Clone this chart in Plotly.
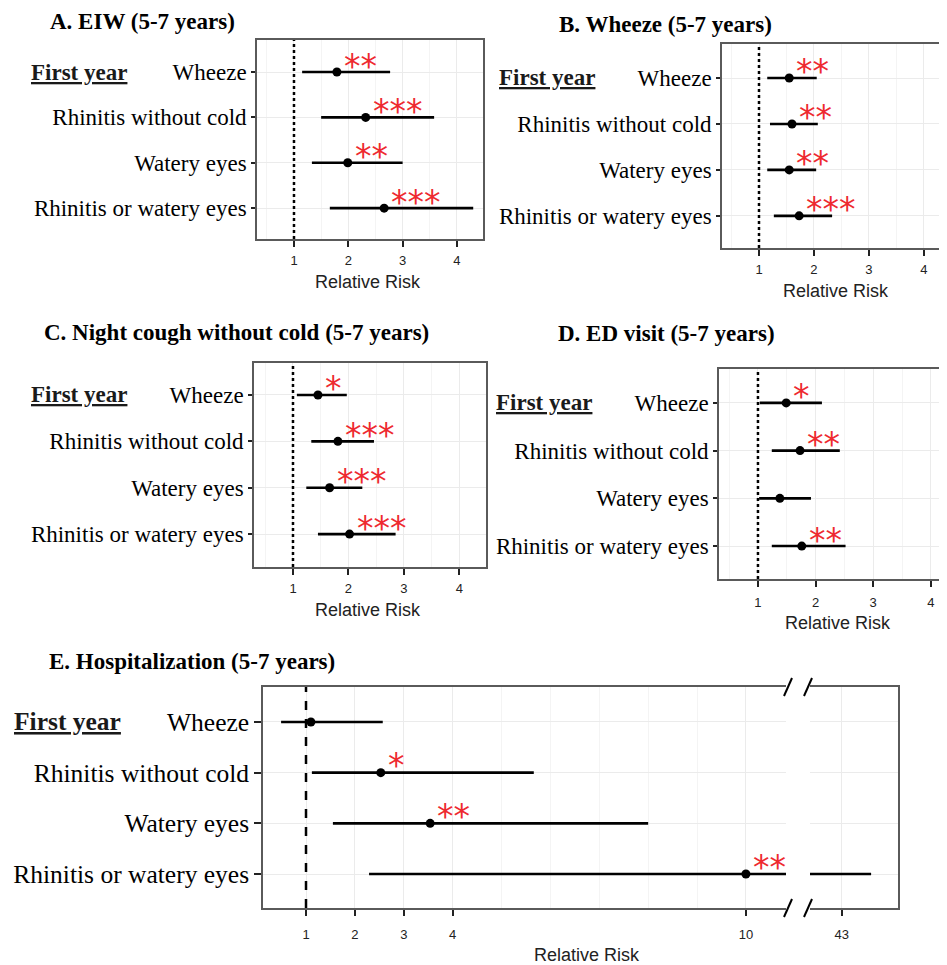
import plotly.graph_objects as go

PAGE_W, PAGE_H = 947, 965
OFF = 8  # default page body margin in the html page
W, H = PAGE_W - OFF, PAGE_H - OFF

# ---------------- data ----------------
outcomes = ["Wheeze", "Rhinitis without cold", "Watery eyes", "Rhinitis or watery eyes"]
row_pos = [1, 2, 3, 4]
group_label = "First year"
null_value = 1
x_title = "Relative Risk"

A_title = "A. EIW (5-7 years)"
A_rr = [1.79, 2.32, 1.99, 2.66]
A_lo = [1.15, 1.50, 1.33, 1.66]
A_hi = [2.77, 3.58, 3.00, 4.30]
A_sig = ["**", "***", "**", "***"]

B_title = "B. Wheeze (5-7 years)"
B_rr = [1.55, 1.60, 1.55, 1.73]
B_lo = [1.15, 1.20, 1.15, 1.27]
B_hi = [2.05, 2.07, 2.04, 2.33]
B_sig = ["**", "**", "**", "***"]

C_title = "C. Night cough without cold (5-7 years)"
C_rr = [1.45, 1.81, 1.66, 2.02]
C_lo = [1.07, 1.33, 1.24, 1.45]
C_hi = [1.97, 2.46, 2.25, 2.85]
C_sig = ["*", "***", "***", "***"]

D_title = "D. ED visit (5-7 years)"
D_rr = [1.49, 1.73, 1.38, 1.76]
D_lo = [1.03, 1.24, 1.02, 1.24]
D_hi = [2.11, 2.42, 1.92, 2.52]
D_sig = ["*", "**", "", "**"]

E_title = "E. Hospitalization (5-7 years)"
E_rr = [1.10, 2.53, 3.54, 10.0]
E_lo = [0.49, 1.12, 1.55, 2.29]
E_hi = [2.57, 5.66, 8.00, 43.6]
E_sig = ["", "*", "**", "**"]

ticks_small = [1, 2, 3, 4]
ticks_E_left = [1, 2, 3, 4, 10]
ticks_E_right = [43]

# ---------------- layout geometry (page pixels) ----------------
SERIF = "Liberation Serif"
SANS = "Liberation Sans"
STAR_FONT = dict(family="DejaVu Sans", size=33, color="#ee2a2f")
BOX = "#5a5a5a"
GRID = "#ebebeb"
MINOR = "#f4f4f4"

panels = [
    dict(n=1, title=A_title, rr=A_rr, lo=A_lo, hi=A_hi, sig=A_sig,
         box=(257, 483, 40, 239), xr=[0.319, 4.48], yr=[4.68, 0.294],
         ttl=(48, 21.5), fy=29, xt=(368, 282), ticks=ticks_small, full=True, fs=23, yt=4, sd=3),
    dict(n=2, title=B_title, rr=B_rr, lo=B_lo, hi=B_hi, sig=B_sig,
         box=(722, 947, 44, 248), xr=[0.327, 4.42], yr=[4.70, 0.26],
         ttl=(557, 24), fy=497, xt=(836, 291), ticks=ticks_small, full=False, fs=23, yt=4, sd=3),
    dict(n=3, title=C_title, rr=C_rr, lo=C_lo, hi=C_hi, sig=C_sig,
         box=(254, 486, 363, 567), xr=[0.297, 4.48], yr=[4.71, 0.31],
         ttl=(42, 333), fy=29, xt=(368, 610), ticks=ticks_small, full=True, fs=23, yt=4, sd=3),
    dict(n=4, title=D_title, rr=D_rr, lo=D_lo, hi=D_hi, sig=D_sig,
         box=(719, 947, 369, 579), xr=[0.324, 4.28], yr=[4.69, 0.29],
         ttl=(556, 334), fy=494, xt=(838, 623), ticks=ticks_small, full=False, fs=23, yt=4, sd=5),
    dict(n=5, title=E_title, rr=E_rr, lo=E_lo, hi=E_hi, sig=E_sig,
         box=(263, 786, 687, 908), xr=[0.12, 10.82], yr=[4.67, 0.31],
         ttl=(47, 661), fy=12, xt=(587, 955), ticks=ticks_E_left, full=False, fs=25.5, yt=7, sd=8),
]
E2_box = (810, 898)
E2_range = [42.35, 44.15]


def px(x):
    return (x - OFF) / W


def py(y):
    return 1 - (y - OFF) / H


fig = go.Figure()
layout = dict(width=W, height=H, margin=dict(l=0, r=0, t=0, b=0),
              plot_bgcolor="white", paper_bgcolor="white", showlegend=False)
annotations = []
shapes = []


def add_ci(xa, ya, rr, lo, hi):
    xs, ys = [], []
    for r, l, h in zip(row_pos, lo, hi):
        xs += [l, h, None]
        ys += [r, r, None]
    fig.add_trace(go.Scatter(x=xs, y=ys, mode="lines", xaxis=xa, yaxis=ya,
                             line=dict(color="black", width=2.6), hoverinfo="skip"))
    fig.add_trace(go.Scatter(x=rr, y=row_pos, mode="markers", xaxis=xa, yaxis=ya,
                             marker=dict(color="black", size=9)))


def xaxis_style(domain, anchor, rng, ticks, fsize, standoff):
    return dict(domain=domain, anchor=anchor, range=rng,
                tickvals=ticks, ticktext=[str(t) for t in ticks],
                showline=True, linecolor=BOX, linewidth=1.6, mirror=True,
                ticks="outside", ticklen=6, tickwidth=2, tickcolor="#222",
                tickfont=dict(family=SANS, size=fsize, color="#222"),
                ticklabelstandoff=standoff,
                showgrid=True, gridcolor=GRID, gridwidth=1, zeroline=False,
                fixedrange=True)


for p in panels:
    n = p["n"]
    x0, x1, y0, y1 = p["box"]
    xa, ya = ("x" if n == 1 else f"x{n}"), ("y" if n == 1 else f"y{n}")
    xkey, ykey = ("xaxis" if n == 1 else f"xaxis{n}"), ("yaxis" if n == 1 else f"yaxis{n}")
    xs = xaxis_style([px(x0), min(1, px(x1))], ya, p["xr"], p["ticks"], 13, p["sd"])
    xs["minor"] = dict(dtick=0.5 if n != 5 else 1, showgrid=True, gridcolor=MINOR, ticks="")
    layout[xkey] = xs
    layout[ykey] = dict(domain=[py(y1), py(y0)], anchor=xa, range=p["yr"],
                        tickvals=row_pos, ticktext=outcomes,
                        showline=True, linecolor=BOX, linewidth=1.6, mirror=p["full"],
                        ticks="outside", ticklen=p["yt"], tickwidth=2, tickcolor="#222",
                        tickfont=dict(family=SERIF, size=p["fs"], color="black"),
                        showgrid=True, gridcolor=GRID, gridwidth=1, zeroline=False,
                        fixedrange=True)
    add_ci(xa, ya, p["rr"], p["lo"], p["hi"])

    # reference line at RR = 1
    shapes.append(dict(type="line", xref=xa, yref=f"{ya} domain", x0=null_value, x1=null_value,
                       y0=0, y1=1, line=dict(color="black", width=2.5,
                                             dash="dash" if n == 5 else "dot")))
    # significance stars
    for r, v, s in zip(row_pos, p["rr"], p["sig"]):
        if s:
            annotations.append(dict(x=v, y=r, xref=xa, yref=ya, text=s, showarrow=False,
                                    xanchor="left", yanchor="middle", xshift=5,
                                    yshift=7 if n == 5 else 6, font=STAR_FONT))
    # titles
    annotations.append(dict(x=px(p["ttl"][0]), y=py(p["ttl"][1]), xref="paper", yref="paper",
                            text=f"<b>{p['title']}</b>", showarrow=False, xanchor="left",
                            yanchor="middle", font=dict(family=SERIF, size=23, color="black")))
    annotations.append(dict(x=px(p["fy"]), y=row_pos[0], xref="paper", yref=ya,
                            text=f"<b><u>{group_label}</u></b>", showarrow=False, xanchor="left",
                            yanchor="middle", font=dict(family=SERIF, size=p["fs"], color="#1a1a1a")))
    annotations.append(dict(x=px(p["xt"][0]), y=py(p["xt"][1]), xref="paper", yref="paper",
                            text=x_title, showarrow=False, xanchor="center", yanchor="middle",
                            font=dict(family=SANS, size=18, color="#222")))

# Panel E right segment (axis break)
ex0, ex1 = E2_box
_, _, ey0, ey1 = panels[4]["box"]
layout["xaxis6"] = xaxis_style([px(ex0), px(ex1)], "y6", E2_range, ticks_E_right, 13, 8)
layout["yaxis6"] = dict(domain=[py(ey1), py(ey0)], anchor="x6", range=panels[4]["yr"],
                        tickvals=row_pos, showticklabels=False, ticks="",
                        showline=True, linecolor=BOX, linewidth=1.6, side="right",
                        showgrid=True, gridcolor=GRID, zeroline=False, fixedrange=True)
add_ci("x6", "y6", E_rr, E_lo, E_hi)

# break marks "//"
for bx in (788, 808):
    for by in (ey0, ey1):
        shapes.append(dict(type="line", xref="paper", yref="paper",
                           x0=px(bx - 4), x1=px(bx + 4), y0=py(by + 9), y1=py(by - 9),
                           line=dict(color="black", width=2)))

layout["annotations"] = annotations
layout["shapes"] = shapes
fig.update_layout(**layout)
fig.write_html("out.html")
